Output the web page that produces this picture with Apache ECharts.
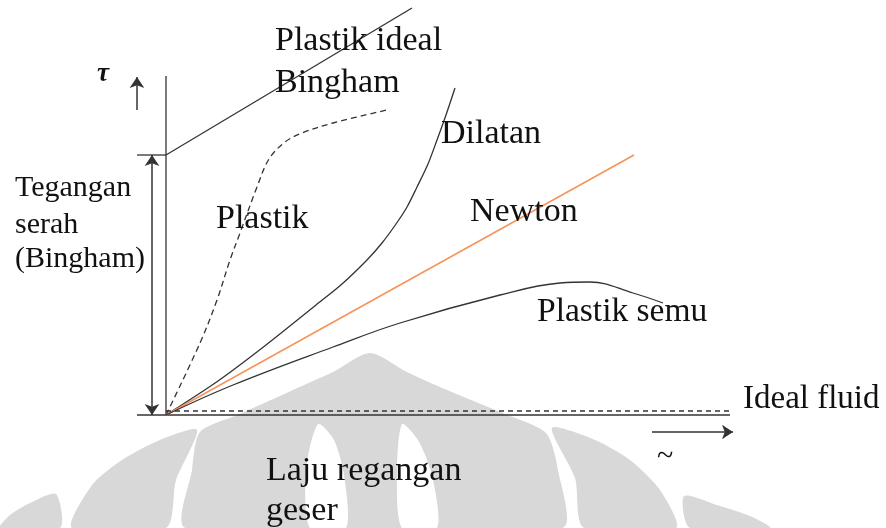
<!DOCTYPE html>
<html>
<head>
<meta charset="utf-8">
<script src="https://cdn.jsdelivr.net/npm/echarts@6/dist/echarts.min.js"></script>
<style>
  html, body { margin: 0; padding: 0; background: #fff; }
  #main { width: 886px; height: 528px; }
</style>
</head>
<body>
<div id="main"></div>
<script>
// curves, [shear rate, shear stress] with origin at the axes corner
var binghamLine = [[0, 260], [246, 407]];
var plastikPts = [[0, 0], [34, 72], [51, 115], [64, 155], [74, 182], [91, 228], [103, 256], [119, 273], [136, 282], [167, 292], [221, 305]];
var dilatanPts = [[0, 0], [52, 34], [100, 70], [150, 110], [176, 131], [201, 155], [216, 172], [230, 191], [241, 208], [251, 228], [262, 251], [271, 275], [280, 300], [289, 327]];
var newtonPts = [[0, 0], [468, 260]];
var semuPts = [[0, 0], [67, 30], [167, 68], [234, 92], [334, 120], [394, 132], [424, 133], [467, 122], [497, 112]];
var idealFluid = [[0, 4], [567, 4]];

var yAxisLine = [[0, 0], [0, 339]];
var xAxisLine = [[-29, 0], [564, 0]];
var yieldTick = [[-29, 260], [0, 260]];
var yieldArrow = [[-14, 260], [-14, 0]];
var tauArrow = [[-29, 305], [-29, 338]];
var rateArrow = [[486, -17], [567, -17]];

var ink = '#333';
var serif = '"Liberation Serif", "Times New Roman", serif';

var chartDom = document.getElementById('main');
var myChart = echarts.init(chartDom);

function curve(data, opts) {
    return Object.assign({
        type: 'line',
        data: data,
        showSymbol: false,
        symbol: 'none',
        silent: true,
        lineStyle: { color: ink, width: 1.3 }
    }, opts || {});
}

function arrow(coords, both) {
    return {
        type: 'lines',
        coordinateSystem: 'cartesian2d',
        symbol: both ? ['arrow', 'arrow'] : ['none', 'arrow'],
        symbolSize: 11,
        silent: true,
        lineStyle: { color: ink, width: 1.5, opacity: 1 },
        data: [{ coords: coords }]
    };
}

function label(text, x, bottom, size, fontStyle) {
    return {
        type: 'text',
        z: 100,
        style: {
            text: text,
            x: x,
            y: bottom,
            font: (fontStyle || '') + ' ' + (size || 34) + 'px ' + serif,
            fill: '#111',
            verticalAlign: 'bottom'
        }
    };
}

// faint watermark in the background
var wm = '#d8d8d8';
function blob(points, fill) {
    return { type: 'polygon', z: -10, silent: true, shape: { points: points, smooth: 0.25 }, style: { fill: fill } };
}

var option = {
    animation: false,
    grid: { left: 0, right: 0, top: 0, bottom: 0 },
    xAxis: { type: 'value', min: -166, max: 720, show: false },
    yAxis: { type: 'value', min: -113, max: 415, show: false },
    graphic: [
        blob([[370, 353], [333, 372], [293, 390], [240, 414], [200, 432], [192, 470], [186, 528], [562, 528], [558, 470], [546, 433], [505, 414], [447, 390], [407, 372]], wm),
        blob([[318, 424], [334, 440], [344, 475], [346, 528], [310, 528], [306, 470]], '#fff'),
        blob([[402, 424], [418, 440], [432, 475], [437, 528], [402, 528], [397, 470]], '#fff'),
        blob([[197, 430], [160, 440], [122, 460], [92, 485], [72, 528], [166, 528], [176, 480]], wm),
        blob([[56, 494], [30, 503], [10, 515], [0, 528], [60, 528]], wm),
        blob([[552, 428], [595, 440], [630, 460], [660, 490], [676, 528], [584, 528], [575, 478]], wm),
        blob([[684, 496], [720, 506], [750, 516], [770, 528], [690, 528]], wm),

        label('Plastik ideal', 275, 58),
        label('Bingham', 275, 100),
        label('Dilatan', 441, 151),
        label('Newton', 470, 229),
        label('Plastik', 216, 236),
        label('Plastik semu', 537, 329, 33.5),
        label('Ideal fluid', 743, 416, 33),
        label('Tegangan', 15, 203, 30),
        label('serah', 15, 240, 30),
        label('(Bingham)', 15, 274, 30),
        label('Laju regangan', 266, 488),
        label('geser', 266, 528),
        label('~', 657, 472, 30),
        label('τ', 97, 88, 27, 'italic bold')
    ],
    series: [
        curve(yAxisLine),
        curve(xAxisLine),
        curve(yieldTick),
        curve(binghamLine),
        curve(plastikPts, { smooth: 0.35, lineStyle: { color: ink, width: 1.3, type: [6, 4] } }),
        curve(dilatanPts, { smooth: 0.3 }),
        curve(newtonPts, { lineStyle: { color: '#f5955a', width: 1.6 } }),
        curve(semuPts, { smooth: 0.4 }),
        curve(idealFluid, { lineStyle: { color: ink, width: 1.3, type: [5, 4] } }),
        arrow(yieldArrow, true),
        arrow(tauArrow, false),
        arrow(rateArrow, false)
    ]
};

option && myChart.setOption(option);
</script>
</body>
</html>
